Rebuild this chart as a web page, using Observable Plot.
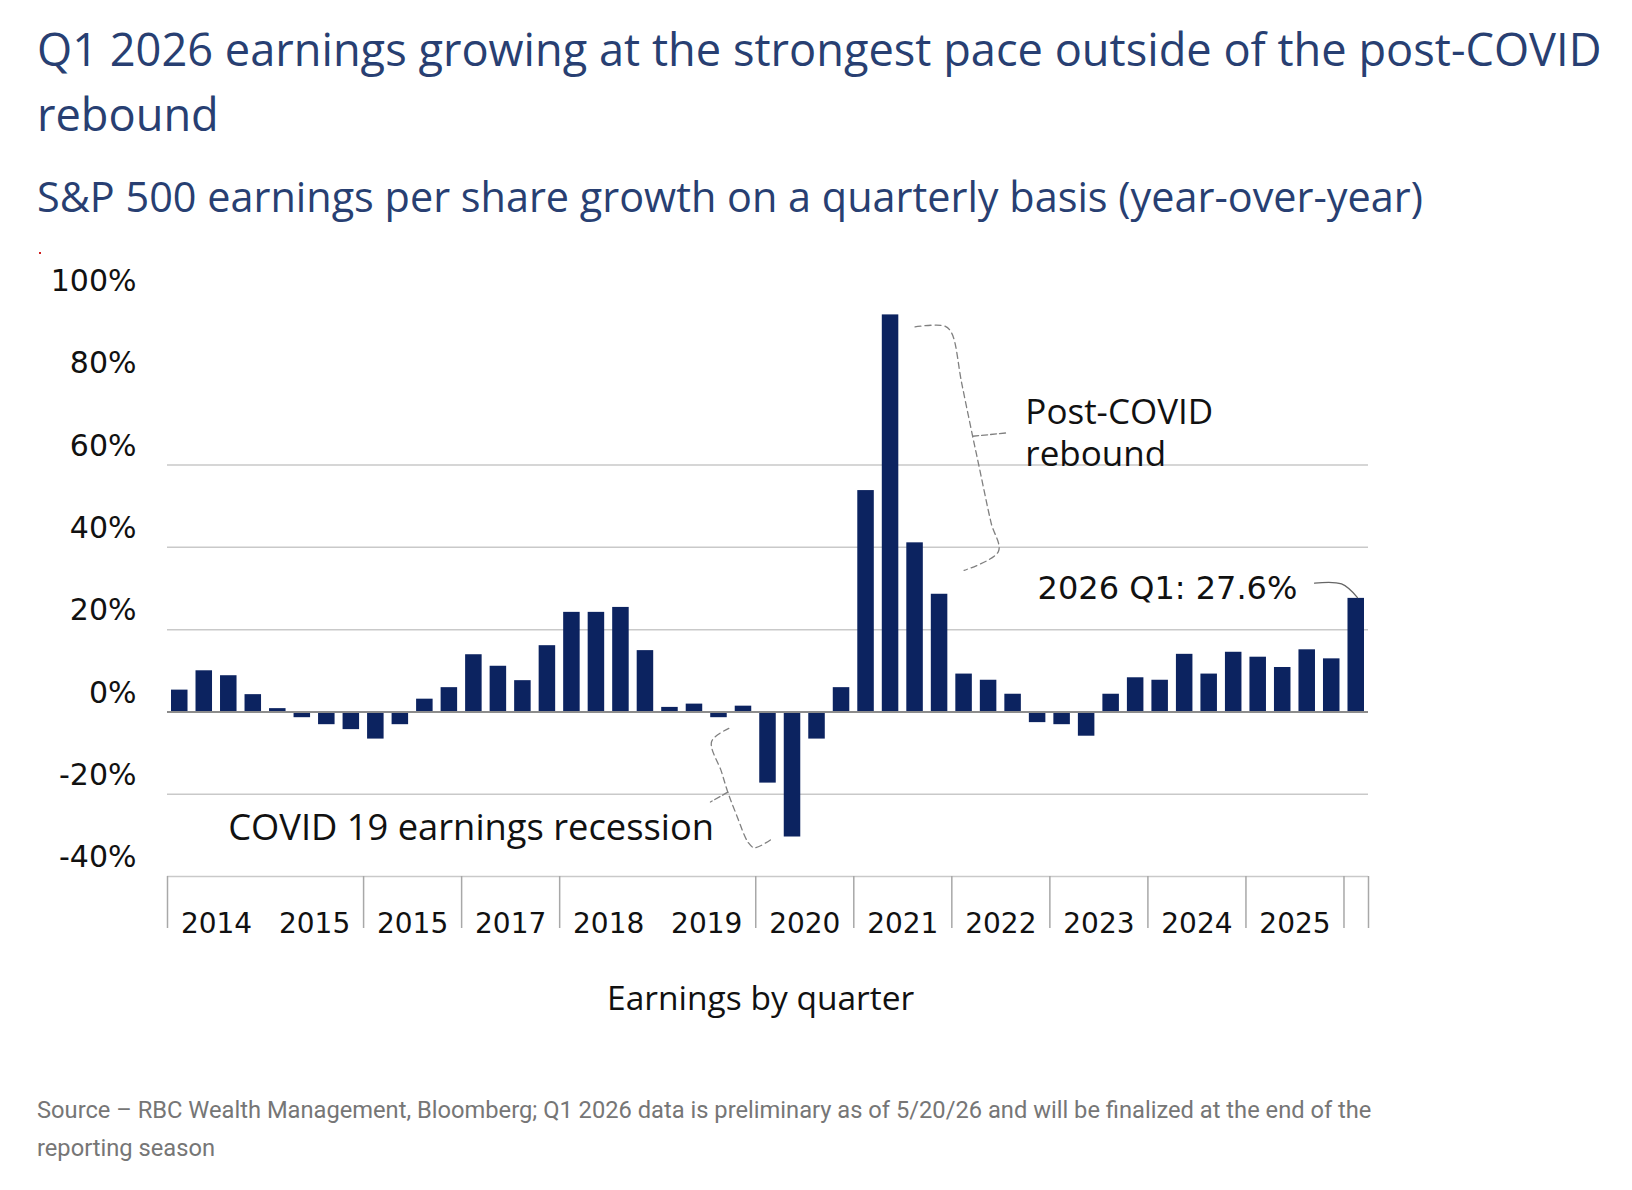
<!DOCTYPE html>
<html>
<head>
<meta charset="utf-8">
<script src="https://cdn.jsdelivr.net/npm/d3@7"></script>
<script src="https://cdn.jsdelivr.net/npm/@observablehq/plot@0.6"></script>
<style>
  html, body { margin: 0; padding: 0; background: #fff; }
  body { width: 1632px; height: 1190px; overflow: hidden; position: relative; }
  #title { font-family: "Open Sans", sans-serif; font-size: 45.2px; line-height: 65px; color: #283f72;
           margin: 0; padding: 16px 0 0 37px; font-weight: 400; white-space: nowrap; }
  #subtitle { font-family: "Open Sans", sans-serif; font-size: 41.4px; line-height: 50px; color: #283f72;
              margin: 25px 0 0 0; padding-left: 37px; height: 50px; white-space: nowrap; }
  #dot { position: absolute; left: 39px; top: 252px; width: 2px; height: 2px; background: #d02020; z-index: 5; }
  #chart { position: absolute; left: 0; top: 225px; }
  #chart svg { display: block; }
  #caption { position: absolute; left: 0; top: 1060px; font-family: Roboto, sans-serif; font-size: 23.7px; line-height: 38px; color: #767676;
             padding: 31px 0 0 37px; margin: 0; white-space: nowrap; }
</style>
</head>
<body>
<div id="title">Q1 2026 earnings growing at the strongest pace outside of the post-COVID<br>rebound</div>
<div id="subtitle">S&amp;P 500 earnings per share growth on a quarterly basis (year-over-year)</div>
<div id="chart"></div>
<div id="dot"></div>
<div id="caption">Source – RBC Wealth Management, Bloomberg; Q1 2026 data is preliminary as of 5/20/26 and will be finalized at the end of the<br>reporting season</div>
<script>
// ---- data ----
const quarters = [
  "2014 Q1","2014 Q2","2014 Q3","2014 Q4",
  "2015 Q1","2015 Q2","2015 Q3","2015 Q4",
  "2016 Q1","2016 Q2","2016 Q3","2016 Q4",
  "2017 Q1","2017 Q2","2017 Q3","2017 Q4",
  "2018 Q1","2018 Q2","2018 Q3","2018 Q4",
  "2019 Q1","2019 Q2","2019 Q3","2019 Q4",
  "2020 Q1","2020 Q2","2020 Q3","2020 Q4",
  "2021 Q1","2021 Q2","2021 Q3","2021 Q4",
  "2022 Q1","2022 Q2","2022 Q3","2022 Q4",
  "2023 Q1","2023 Q2","2023 Q3","2023 Q4",
  "2024 Q1","2024 Q2","2024 Q3","2024 Q4",
  "2025 Q1","2025 Q2","2025 Q3","2025 Q4",
  "2026 Q1"
];
const epsGrowth = [
  5.3, 10.0, 8.8, 4.2,
  0.8, -1.4, -3.1, -4.3,
  -6.6, -3.1, 3.1, 5.9,
  13.9, 11.1, 7.6, 16.1,
  24.2, 24.2, 25.4, 14.9,
  1.1, 1.9, -1.4, 1.4,
  -17.3, -30.4, -6.6, 5.9,
  53.8, 96.5, 41.1, 28.6,
  9.2, 7.7, 4.3, -2.6,
  -3.1, -5.9, 4.3, 8.3,
  7.7, 14.0, 9.2, 14.5,
  13.3, 10.8, 15.1, 12.9,
  27.6
];
// year groups shown on the axis (labels exactly as printed in the original)
const axisYears = ["2014","2015","2016","2017","2018","2019","2020","2021","2022","2023","2024","2025"];
const axisYearLabels = ["2014","2015","2015","2017","2018","2019","2020","2021","2022","2023","2024","2025"];
// quarters where a year-separator tick is drawn
const separatorQuarters = ["2014 Q1","2016 Q1","2017 Q1","2018 Q1","2020 Q1","2021 Q1","2022 Q1","2023 Q1","2024 Q1","2025 Q1","2026 Q1"];
const yTickValues = [-40, -20, 0, 20, 40, 60, 80, 100];
const gridValues = [-40, -20, 20, 40, 60];

// annotation paths, in (quarter index, % growth) units
const reboundBrace = [
  {x: 30.5, y: 93.6}, {x: 31.7, y: 93.8}, {x: 32.0, y: 92.0}, {x: 32.4, y: 80.0},
  {x: 32.85, y: 67.0}, {x: 33.1, y: 60.0}, {x: 33.6, y: 46.0}, {x: 33.9, y: 39.0}, {x: 32.5, y: 34.4}
];
const reboundTick = [{x: 32.85, y: 67.0}, {x: 34.2, y: 67.8}];
const recessionBrace = [
  {x: 22.9, y: -4.0}, {x: 22.2, y: -7.2}, {x: 22.6, y: -14.5}, {x: 22.86, y: -19.5},
  {x: 23.2, y: -24.8}, {x: 23.7, y: -31.8}, {x: 23.95, y: -33.0}, {x: 24.65, y: -30.9}
];
const recessionTick = [{x: 22.86, y: -19.5}, {x: 22.15, y: -21.9}];
const lastLeader = [{x: 46.8, y: 31.3}, {x: 47.9, y: 31.1}, {x: 48.55, y: 27.8}];

// ---- build ----
const rows = quarters.map((q, i) => ({q, i, v: epsGrowth[i]}));
const idx = q => quarters.indexOf(q);
const yearRows = axisYears.map((y, k) => ({label: axisYearLabels[k], pos: idx(y + " Q1") + 2}));
const seps = separatorQuarters.map(idx).concat([quarters.length]);

const navy = "#0c2360";
const chart = Plot.plot({
  width: 1632,
  height: 835,
  marginLeft: 167,
  marginRight: 264,
  marginTop: 75,
  marginBottom: 184,
  style: {fontFamily: "DejaVu Sans", fontSize: "30px", color: "#111", background: "transparent"},
  x: {domain: [0, quarters.length], axis: null},
  y: {domain: [-40, 100], axis: null},
  marks: [
    Plot.ruleY(gridValues, {stroke: "#c9c9c9", strokeWidth: 1.5}),
    Plot.rect(rows, {x1: "i", x2: d => d.i + 1, y1: 0, y2: "v", fill: navy, insetLeft: 4, insetRight: 4}),
    Plot.ruleY([0], {stroke: "#8c8c8c", strokeWidth: 2}),
    Plot.ruleX(seps, {x: d => d, y1: -40, y2: -40, insetBottom: -52, stroke: "#a8a8a8", strokeWidth: 1.5}),
    Plot.axisY({ticks: yTickValues, tickFormat: d => `${d}%`, tickSize: 0, tickPadding: 31, dy: -19,
                fontSize: 30, fontFamily: "DejaVu Sans", fill: "#111"}),
    Plot.text(yearRows, {x: "pos", text: "label", frameAnchor: "bottom", dy: 48, lineAnchor: "middle",
                         fontSize: 28, fontFamily: "DejaVu Sans", fill: "#111"}),
    Plot.text(["Earnings by quarter"], {x: 24.2, frameAnchor: "bottom", dy: 123, lineAnchor: "middle",
                         fontSize: 33.5, fontFamily: "Open Sans", fill: "#111"}),
    // annotations
    Plot.line(reboundBrace, {x: "x", y: "y", stroke: "#808080", strokeWidth: 1.3, strokeDasharray: "6,4", curve: "catmull-rom"}),
    Plot.line(reboundTick, {x: "x", y: "y", stroke: "#808080", strokeWidth: 1.3, strokeDasharray: "6,3"}),
    Plot.line(recessionBrace, {x: "x", y: "y", stroke: "#808080", strokeWidth: 1.3, strokeDasharray: "6,4", curve: "catmull-rom"}),
    Plot.line(recessionTick, {x: "x", y: "y", stroke: "#808080", strokeWidth: 1.3, strokeDasharray: "6,3"}),
    Plot.line(lastLeader, {x: "x", y: "y", stroke: "#666", strokeWidth: 1.3, curve: "catmull-rom"}),
    Plot.text(["Post-COVID\nrebound"], {x: 35.0, y: 68.2, textAnchor: "start", lineAnchor: "middle", lineHeight: 1.22,
                         fontSize: 35, fontFamily: "Open Sans", fill: "#111"}),
    Plot.text(["COVID 19 earnings recession"], {x: 22.3, y: -28.3, textAnchor: "end", lineAnchor: "middle",
                         fontSize: 36.3, fontFamily: "Open Sans", fill: "#111"}),
    Plot.text(["2026 Q1: 27.6%"], {x: 35.5, y: 30.0, textAnchor: "start", lineAnchor: "middle",
                         fontSize: 32, fontFamily: "DejaVu Sans", fill: "#111"})
  ]
});
document.getElementById("chart").appendChild(chart);
</script>
</body>
</html>
